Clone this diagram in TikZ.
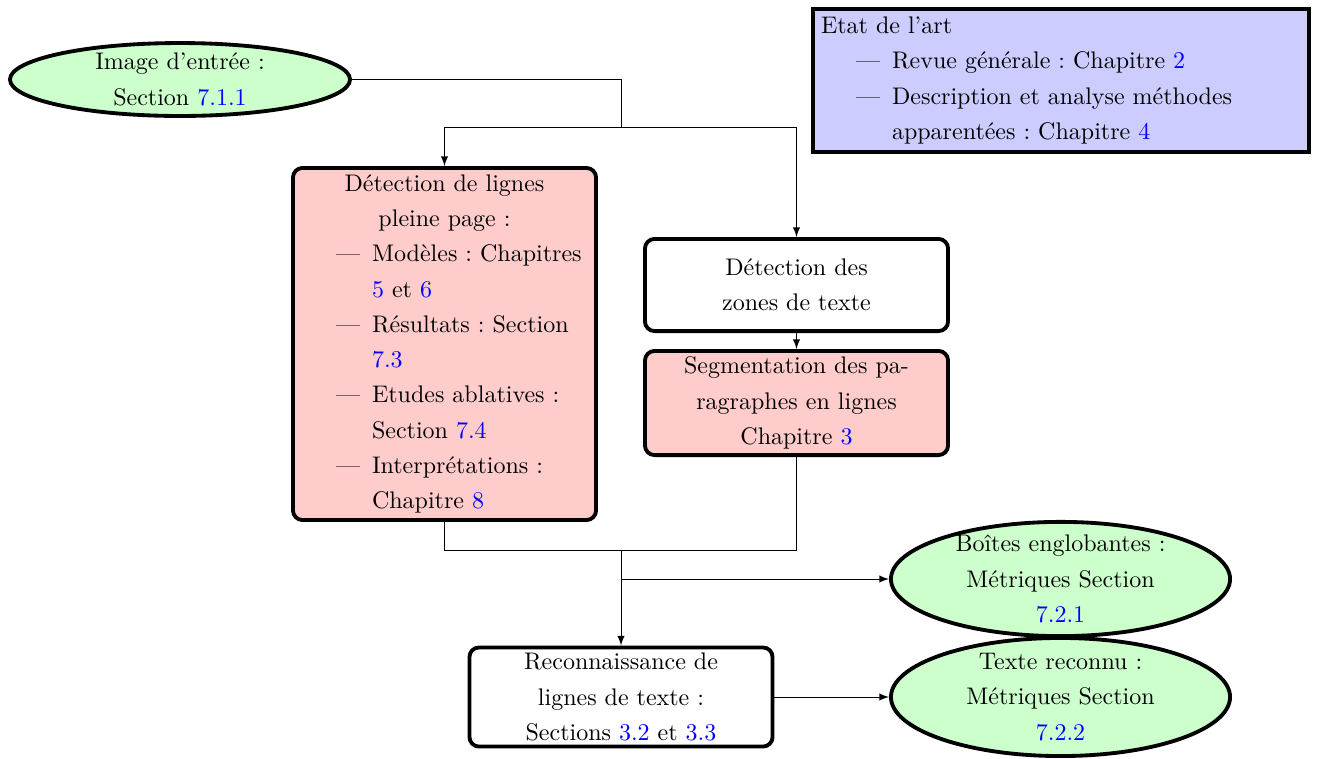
\documentclass[tikz,border=0pt]{standalone}
\usepackage{tikz}
\usetikzlibrary{shapes.geometric}
\frenchspacing
\newcommand{\secRef}[1]{\textcolor{blue}{#1}}
\newcommand{\itemLine}[1]{\hspace*{14.6pt}---\hspace*{5pt}#1}
\newcommand{\itemCont}[1]{\hspace*{29.6pt}#1}

\begin{document}
\begin{tikzpicture}[x=0.41667pt, y=-0.41667pt, >=latex]
  \tikzset{
    every node/.style={font=\fontsize{10}{14.7}\selectfont},
    stage/.style={draw, ultra thick, rounded corners, minimum width=126.3pt, inner ysep=1.5pt, align=center},
    redstage/.style={stage, fill=red!20},
    result/.style={draw, ultra thick, ellipse, fill=green!20, align=center, inner xsep=0pt, inner ysep=-4pt}
  }
  \useasboundingbox (0,0) rectangle (1320,758);
  \node[result, minimum width=141.7pt, minimum height=30.4pt] (Entree) at (180,79.5)
    {Image d'entrée :\\Section \secRef{7.1.1}};
  \node[draw, ultra thick, fill=blue!20, text width=200pt, align=left, minimum height=58.8pt] (Etat) at (1061,80.5)
    {Etat de l'art\\\itemLine{Revue générale : Chapitre \secRef{2}}\\\itemLine{Description et analyse méthodes}\\\itemCont{apparentées : Chapitre \secRef{4}}};
  \node[redstage, text width=119.6pt, align=left, minimum height=146.7pt] (Lignes) at (444.5,344)
    {{\centering Détection de lignes\\pleine page :\par}\itemLine{Modèles : Chapitres}\\\itemCont{\secRef{5} et \secRef{6}}\\\itemLine{Résultats : Section}\\\itemCont{\secRef{7.3}}\\\itemLine{Etudes ablatives :}\\\itemCont{Section \secRef{7.4}}\\\itemLine{Interprétations :}\\\itemCont{Chapitre \secRef{8}}};
  \node[stage, minimum height=38.4pt] (Zones) at (796.5,285) {Détection des\\zones de texte};
  \node[redstage, minimum height=43.4pt] (Segm) at (796.5,403)
    {Segmentation des pa-\\ragraphes en lignes\\Chapitre \secRef{3}};
  \node[stage, minimum height=41.3pt] (Reco) at (621,697)
    {Reconnaissance de\\lignes de texte :\\Sections \secRef{3.2} et \secRef{3.3}};
  \node[result, minimum width=141.3pt, minimum height=47.6pt] (Boites) at (1060.5,579)
    {Boîtes englobantes :\\Métriques Section\\\secRef{7.2.1}};
  \node[result, minimum width=141.3pt, minimum height=49.2pt] (Texte) at (1060.5,697)
    {Texte reconnu :\\Métriques Section\\\secRef{7.2.2}};
  \coordinate (Split-1) at (621,127);
  \coordinate (Merge-1) at (621,550);
  \coordinate (Branch-1) at (621,579);
  \draw (Entree.east) -| (Split-1);
  \draw[->] (Split-1) -| (Lignes.north);
  \draw[->] (Split-1) -| (Zones.north);
  \draw[->] (Zones.south) -- (Segm.north);
  \draw (Lignes.south) |- (Merge-1);
  \draw (Segm.south) |- (Merge-1);
  \draw[->] (Merge-1) -- (Reco.north);
  \draw[->] (Branch-1) -- (Boites.west);
  \draw[->] (Reco.east) -- (Texte.west);
\end{tikzpicture}
\end{document}
